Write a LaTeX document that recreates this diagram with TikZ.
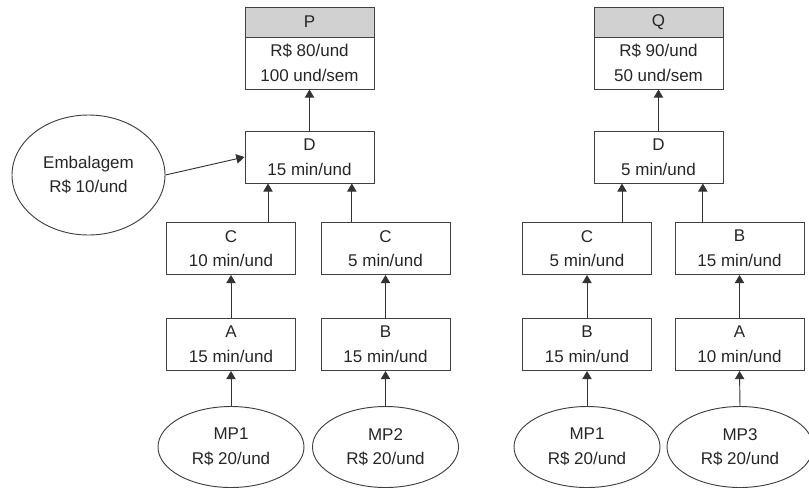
\documentclass[tikz,border=0pt]{standalone}
\usepackage{fontspec}
\setmainfont{Liberation Sans}
\usetikzlibrary{shapes.geometric,arrows.meta}

\begin{document}
\begin{tikzpicture}[x=0.03cm,y=-0.03cm,
		caixa/.style={draw=black!75,line width=0.8pt,rectangle,minimum width=3.87cm,minimum height=1.56cm,align=center},
		topo/.style={caixa,minimum height=0.9cm,fill=black!18},
		bola/.style={draw=black!75,line width=0.8pt,ellipse,minimum width=4.38cm,minimum height=2.43cm,align=center},
		seta/.style={draw=black!80,line width=0.8pt,-{Triangle[length=7pt,width=8pt]}}]
				\tikzstyle{every node}+=[inner sep=0pt,font=\fontsize{14.5}{21}\selectfont,text=black!85]
				\useasboundingbox (0,0) rectangle (809,490);
				\node[topo] (P) at (309.5,22) {P};
				\node[caixa] (Pv) at (309.5,63) {R\$ 80/und\\100 und/sem};
				\node[caixa] (D1) at (309.5,157) {D\\15 min/und};
				\node[bola,minimum width=4.59cm,minimum height=3.6cm] (emb) at (88.5,175) {Embalagem\\R\$ 10/und};
				\node[caixa] (C1) at (231,248.5) {C\\10 min/und};
				\node[caixa] (C2) at (385.5,248.5) {C\\5 min/und};
				\node[caixa] (A1) at (231,344.5) {A\\15 min/und};
				\node[caixa] (B1) at (385.5,344.5) {B\\15 min/und};
				\node[bola] (MP1) at (231,447) {MP1\\R\$ 20/und};
				\node[bola] (MP2) at (385.5,447) {MP2\\R\$ 20/und};
				\node[topo] (Q) at (658.5,22) {Q};
				\node[caixa] (Qv) at (658.5,63) {R\$ 90/und\\50 und/sem};
				\node[caixa] (D2) at (658.5,157) {D\\5 min/und};
				\node[caixa] (C3) at (587,248.5) {C\\5 min/und};
				\node[caixa] (B3) at (739.5,248.5) {B\\15 min/und};
				\node[caixa] (B2) at (587,344.5) {B\\15 min/und};
				\node[caixa] (A2) at (739.5,344.5) {A\\10 min/und};
				\node[bola] (MP1b) at (587,447) {MP1\\R\$ 20/und};
				\node[bola] (MP3) at (740,447) {MP3\\R\$ 20/und};
				\draw[seta] (MP1.north) -- (A1.south);
				\draw[seta] (MP2.north) -- (B1.south);
				\draw[seta] (A1.north) -- (C1.south);
				\draw[seta] (B1.north) -- (C2.south);
				\draw[seta] ([xshift=1.11cm]C1.north) -- ([xshift=1.11cm]C1.north |- D1.south);
				\draw[seta] ([xshift=-1.01cm]C2.north) -- ([xshift=-1.01cm]C2.north |- D1.south);
				\draw[seta] (emb.east) -- (D1.west);
				\draw[seta] (D1.north) -- (Pv.south);
				\draw[seta] (MP1b.north) -- (B2.south);
				\draw[seta] (MP3.north) -- (A2.south);
				\draw[seta] (B2.north) -- (C3.south);
				\draw[seta] (A2.north) -- (B3.south);
				\draw[seta] ([xshift=1.05cm]C3.north) -- ([xshift=1.05cm]C3.north |- D2.south);
				\draw[seta] ([xshift=-1.1cm]B3.north) -- ([xshift=-1.1cm]B3.north |- D2.south);
				\draw[seta] (D2.north) -- (Qv.south);
\end{tikzpicture}
\end{document}
